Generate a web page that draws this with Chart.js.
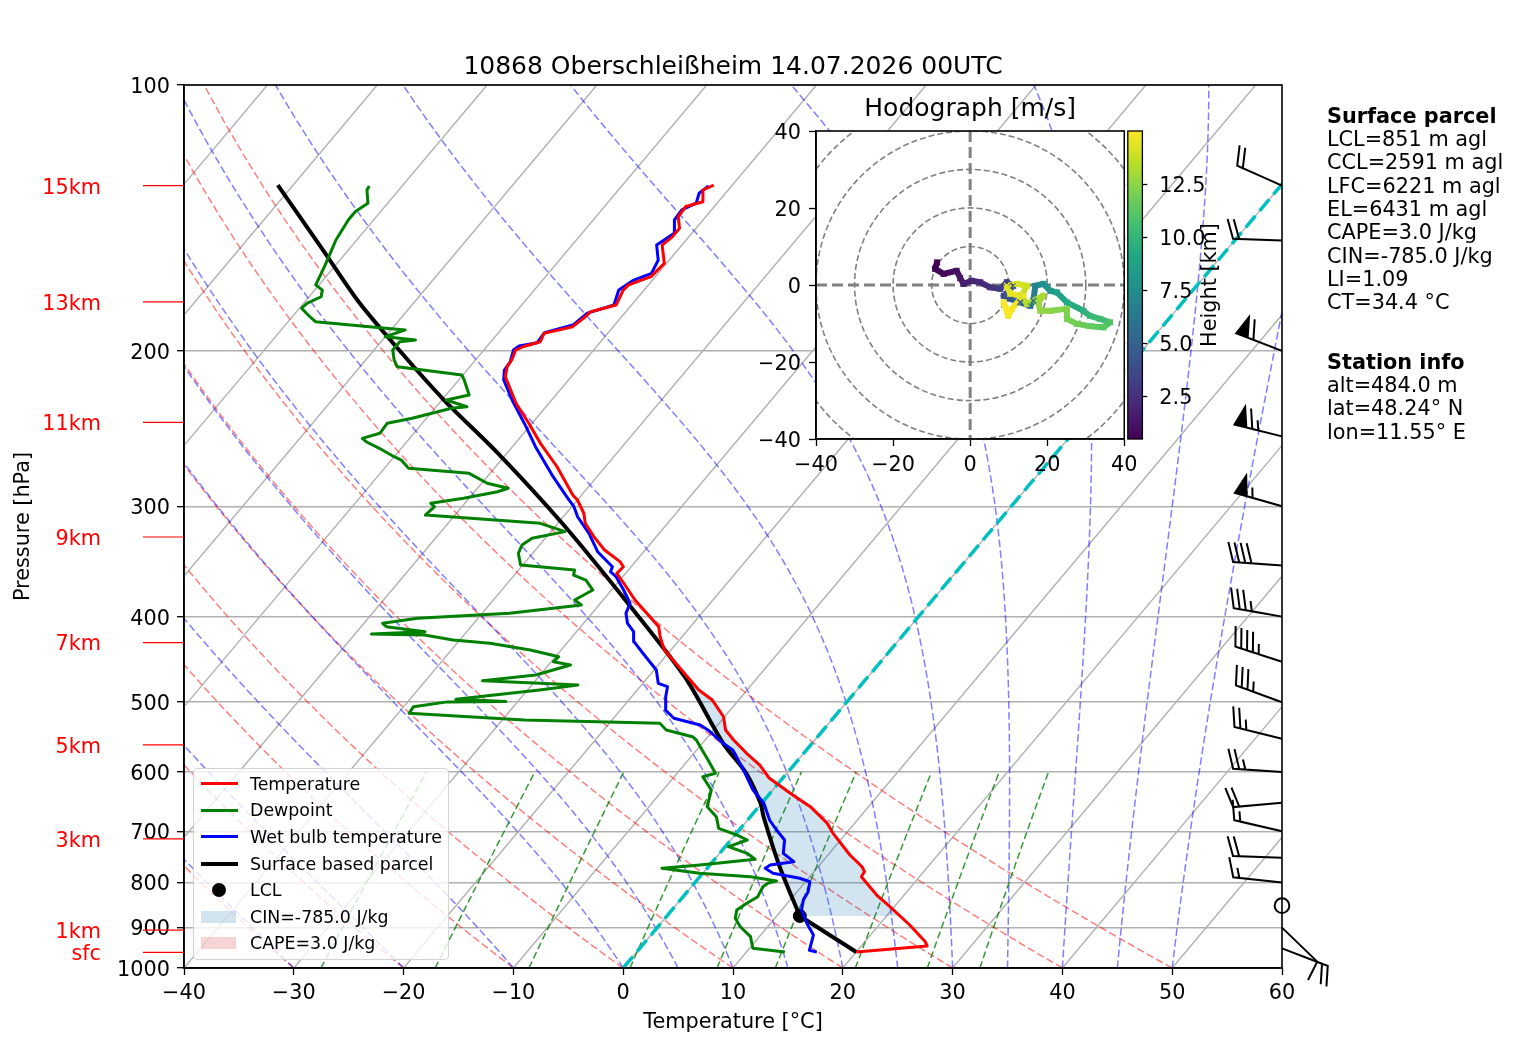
<!DOCTYPE html>
<html>
<head>
<meta charset="utf-8">
<title>10868 Oberschleißheim skew-T</title>
<script src="https://cdn.jsdelivr.net/npm/chart.js@4.4.1/dist/chart.umd.min.js"></script>
<style>
  body { margin: 0; background: #fff; font-family: "DejaVu Sans", sans-serif; color: #000; }
  #wrap { position: relative; width: 1517px; height: 1054px; overflow: hidden; background: #fff; }
  canvas { position: absolute; }
  #legend { position: absolute; left: 193px; top: 768px; width: 256px; height: 192px; box-sizing: border-box;
            background: rgba(255,255,255,0.8); border: 1px solid #d3d3d3; border-radius: 4px; font-size: 17.4px; }
  #legend .row { position: absolute; left: 0; width: 100%; height: 26px; }
  #legend .lab { position: absolute; left: 56px; top: 0; line-height: 26px; white-space: nowrap; }
  #legend .ln { position: absolute; left: 7px; width: 37px; top: 11.5px; height: 3px; }
  #legend .dot { position: absolute; left: 18px; top: 6px; width: 14px; height: 14px; border-radius: 50%; background: #000; }
  #legend .patch { position: absolute; left: 7px; top: 7px; width: 35px; height: 12px; }
  .info { position: absolute; left: 1327px; font-size: 20.8px; line-height: 23.3px; white-space: nowrap; }
</style>
</head>
<body>
<div id="wrap">
  <canvas id="skewt" width="1517" height="1054" style="left:0;top:0"></canvas>
  <canvas id="hodo" width="480" height="390" style="left:760px;top:90px"></canvas>
  <div id="legend">
    <div class="row" style="top:1.7px"><div class="ln" style="background:#ff0000"></div><span class="lab">Temperature</span></div>
    <div class="row" style="top:28.3px"><div class="ln" style="background:#008000"></div><span class="lab">Dewpoint</span></div>
    <div class="row" style="top:54.9px"><div class="ln" style="background:#0000ff"></div><span class="lab">Wet bulb temperature</span></div>
    <div class="row" style="top:81.5px"><div class="ln" style="background:#000;height:4px;top:11px"></div><span class="lab">Surface based parcel</span></div>
    <div class="row" style="top:108.1px"><div class="dot"></div><span class="lab">LCL</span></div>
    <div class="row" style="top:134.7px"><div class="patch" style="background:rgba(31,119,180,0.2)"></div><span class="lab">CIN=-785.0 J/kg</span></div>
    <div class="row" style="top:161.3px"><div class="patch" style="background:rgba(214,39,40,0.2)"></div><span class="lab">CAPE=3.0 J/kg</span></div>
  </div>
  <div class="info" style="top:104.8px">
    <b>Surface parcel</b><br>LCL=851 m agl<br>CCL=2591 m agl<br>LFC=6221 m agl<br>EL=6431 m agl<br>CAPE=3.0 J/kg<br>CIN=-785.0 J/kg<br>LI=1.09<br>CT=34.4 °C
  </div>
  <div class="info" style="top:350.8px">
    <b>Station info</b><br>alt=484.0 m<br>lat=48.24° N<br>lon=11.55° E
  </div>
</div>
<script>
// sounding data (pressure hPa, temperature degC)
const tempP = [959, 944.3, 933.7, 893.9, 852.3, 826.7, 801.8, 788.1, 777.9, 767.9, 744.8, 703.8, 685.7, 656.6, 636.9,
  609.8, 589.0, 571.3, 551.8, 537.6, 519.3, 497.2, 484.3, 459.7, 436.4, 421.5, 410.6, 396.6, 383.0, 366.7, 357.3,
  351.2, 346.6, 336.2, 324.7, 313.6, 305.5, 295.1, 291.3, 282.5, 270.6, 254.6, 241.6, 229.3, 221.5, 214.0, 208.5,
  204.9, 199.6, 197.9, 195.3, 191.1, 187.8, 183.0, 180.6, 177.5, 170.7, 168.4, 164.8, 159.2, 151.8, 148.5, 145.3,
  141.0, 137.3, 135.6, 131.5, 129.8];
const tempT = [20.0, 26.0, 25.5, 22.8, 19.6, 17.5, 15.7, 14.7, 14.6, 14.0, 12.0, 8.8, 7.5, 4.7, 2.2,
  -1.2, -3.1, -5.2, -7.4, -8.9, -10.1, -12.4, -14.4, -17.5, -20.6, -22.0, -22.9, -25.0, -27.1, -29.4, -30.8,
  -30.7, -31.4, -33.7, -35.7, -37.5, -38.4, -40.0, -40.8, -42.3, -44.4, -47.7, -50.3, -53.0, -54.5, -56.0, -56.6,
  -56.7, -57.1, -56.7, -55.5, -55.8, -53.7, -53.3, -53.2, -51.4, -51.9, -51.8, -50.4, -50.2, -51.8, -51.5, -51.5,
  -52.5, -52.6, -51.4, -52.3, -51.7];

const dewP = [959.1, 949.9, 921.6, 897.9, 878.4, 859.6, 844.8, 830.3, 809.0, 801.2, 797.0, 788.1, 781.2, 771.1, 764.5,
  753.2, 741.5, 728.8, 716.2, 707.0, 694.7, 674.0, 656.6, 628.7, 607.2, 601.9, 581.3, 551.8, 547.1, 537.6, 528.3,
  523.8, 514.7, 505.9, 499.6, 499.0, 496.3, 484.3, 478.1, 476.0, 472.8, 465.8, 453.8, 449.9, 444.1, 436.4, 428.8,
  425.2, 419.6, 418.5, 416.0, 410.6, 407.0, 401.7, 396.6, 388.1, 383.0, 373.2, 363.6, 358.9, 354.2, 349.6, 339.1,
  331.9, 326.1, 320.5, 313.6, 306.9, 300.3, 297.7, 293.8, 288.8, 286.2, 282.5, 275.3, 271.7, 265.9, 263.6, 259.0,
  253.5, 251.3, 248.0, 241.6, 238.5, 232.3, 231.4, 227.4, 224.4, 215.8, 213.0, 210.3, 208.5, 204.9, 199.6, 195.3,
  194.4, 192.8, 189.4, 188.6, 185.4, 183.0, 179.0, 176.7, 173.7, 170.7, 168.4, 160.6, 155.1, 149.8, 142.2, 139.1,
  136.1, 131.5, 130.1];
const dewT = [13.5, 10.3, 9.2, 7.5, 6.4, 5.9, 6.3, 6.8, 6.5, 6.7, 7.3, 4.6, -0.3, -4.1, -0.9,
  3.7, 2.5, 0.3, 1.5, 0.2, -2.0, -3.1, -4.7, -5.6, -7.4, -6.5, -8.2, -10.8, -11.4, -14.3, -15.4,
  -28.0, -39.0, -39.1, -36.4, -31.1, -35.8, -28.9, -25.8, -29.4, -34.8, -30.4, -28.0, -29.8, -29.7, -32.8, -37.0,
  -40.6, -43.6, -48.5, -43.8, -47.7, -48.3, -45.5, -37.5, -31.6, -32.6, -31.7, -33.1, -34.6, -34.9, -40.2, -41.3,
  -41.6, -41.2, -38.7, -41.6, -52.7, -52.5, -53.1, -50.5, -47.9, -47.2, -49.5, -51.9, -57.8, -59.1, -60.0, -61.6,
  -63.7, -64.3, -63.1, -63.2, -61.3, -58.5, -57.2, -59.6, -57.9, -59.5, -60.1, -64.0, -66.6, -67.4, -68.3, -68.3,
  -67.0, -70.0, -68.7, -70.6, -77.5, -78.4, -79.8, -79.7, -78.9, -79.3, -80.3, -80.9, -81.4, -81.9, -82.3, -82.3,
  -81.8, -82.9, -83.0];

const wetP = [959, 954.9, 917.6, 890.0, 859.6, 837.5, 819.6, 798.5, 791.4, 781.2, 771.1, 764.5, 757.9, 741.5, 716.2,
  697.8, 679.8, 650.8, 628.7, 596.7, 566.4, 556.6, 537.6, 530.6, 521.4, 510.3, 492.9, 480.2, 476.0, 459.7, 440.1,
  427.0, 416.0, 407.0, 396.6, 386.3, 373.2, 360.5, 355.8, 351.2, 337.7, 321.9, 308.3, 300.3, 293.8, 277.7, 256.8,
  243.7, 227.4, 215.8, 210.3, 205.8, 199.6, 197.5, 195.8, 190.8, 187.0, 181.3, 177.5, 170.7, 166.3, 163.4, 157.9,
  151.8, 147.2, 142.2, 138.5, 136.1, 132.6, 130.1];
const wetT = [16.4, 15.6, 14.8, 13.3, 11.8, 11.2, 11.0, 10.4, 9.2, 6.4, 5.3, 5.5, 7.4, 5.8, 4.9,
  3.4, 2.0, 0.2, -1.8, -4.2, -6.7, -8.1, -10.5, -11.6, -14.5, -15.9, -16.9, -17.5, -18.6, -19.8, -22.3,
  -24.0, -24.8, -26.0, -26.9, -27.3, -28.9, -30.6, -31.5, -31.7, -34.2, -36.4, -38.7, -39.8, -41.0, -44.0, -47.9,
  -50.3, -53.6, -55.9, -56.6, -56.7, -57.3, -57.1, -55.7, -55.8, -53.8, -53.4, -51.6, -52.3, -51.7, -50.6, -51.0,
  -52.3, -51.6, -52.6, -52.7, -51.9, -52.4, -52.1];

// surface based parcel, index 1 is the LCL
const parcelP = [959, 873.2, 767.9, 674.0, 650.8, 601.9, 556.6, 467.9, 386.3, 313.6, 261.3, 227.4, 200, 176.0, 153.8, 129.8];
const parcelT = [20.0, 12.1, 6.5, 1.2, -0.1, -3.7, -8.1, -16.7, -27.5, -39.6, -50.8, -59.8, -67.6, -75.1, -82.3, -91.4];

// wind barbs (knots, direction from)
const windP = [950, 900, 850, 800, 750, 700, 650, 600, 550, 500, 450, 400, 350, 300, 250, 200, 150, 130];
const windSpd = [20, 10, 0, 15, 20, 15, 20, 25, 25, 35, 45, 35, 40, 55, 65, 60, 20, 20];
const windDir = [111, 134, 0, 276, 272, 283, 265, 274, 284, 290, 288, 280, 274, 286, 284, 291, 272, 294];

// hodograph (m/s) and height (km)
const hodoU = [-8.6, -9.1, -6.9, -3.5, -2.6, -1.7, 0.4, 2.6, 5.2, 7.8, 9.5, 11.2, 8.7, 10.4, 13.0, 15.6, 16.4, 16.9, 19.0,
  20.8, 22.5, 25.1, 29.4, 31.1, 33.7, 36.3, 34.6, 31.1, 27.7, 25.1, 25.1, 20.8, 18.2, 17.7, 19.0, 14.7, 13.4, 14.7,
  12.1, 9.5, 10.4, 13.8, 10.8, 9.9, 8.7];
const hodoV = [5.9, 4.2, 2.9, 3.7, 1.8, 0.3, 1.1, 0.7, -0.6, -1.0, 0.7, -0.2, -2.8, -3.6, -4.5, -5.4, -4.1, -0.2, 0.3,
  -1.5, -1.9, -4.5, -6.7, -8.0, -8.8, -9.7, -11.0, -10.7, -10.1, -8.8, -6.2, -6.7, -6.7, -4.5, -2.8, -4.9, -2.8, -0.2,
  0.3, -0.2, -2.3, -2.8, -6.2, -8.0, -4.5];
const hodoH = [0.5, 0.6, 0.8, 1.1, 1.3, 1.7, 1.9, 2.1, 2.5, 2.9, 3.3, 3.6, 4.0, 4.4, 5.0, 5.6, 6.1, 7.0, 7.6,
  8.1, 8.6, 9.1, 9.6, 10.0, 10.4, 10.9, 11.2, 11.5, 11.8, 12.0, 12.2, 12.4, 12.6, 12.8, 13.0, 13.3, 13.6, 13.9,
  14.1, 14.3, 14.5, 14.6, 14.8, 14.9, 15.0];

// axis ticks / labels
const tempTicks = [-40, -30, -20, -10, 0, 10, 20, 30, 40, 50, 60];
const presTicks = [100, 200, 300, 400, 500, 600, 700, 800, 900, 1000];
const heightLabels = ['sfc', '1km', '3km', '5km', '7km', '9km', '11km', '13km', '15km'];
const heightP = [960, 906, 714, 559, 428, 325, 241, 176, 130];
const hodoRings = [10, 20, 30, 40, 50, 60];
const cbarTicks = [2.5, 5.0, 7.5, 10.0, 12.5];
const cbarMin = 0.484, cbarMax = 15.0;
const dryStart = [-40, -30, -20, -10, 0, 10, 20, 30, 40, 50];
const moistStart = [-40, -30, -20, -10, 0, 5, 10, 15, 20, 25, 30, 35, 40, 45, 50];
const mixRatios = [0.0004, 0.001, 0.002, 0.004, 0.007, 0.01, 0.016, 0.024, 0.032];

const SKEW = 67.6; // degC shift per decade of pressure
const FONT = 'DejaVu Sans';
const minus = v => (v < 0 ? '\u2212' + Math.abs(v) : String(v));
const skewX = (t, p) => t + SKEW * Math.log10(1000 / p);
const profile = (ps, ts) => ps.map((p, i) => ({ x: skewX(ts[i], p), y: p }));

Chart.defaults.font.family = FONT;
Chart.defaults.color = '#000';

function guideLine(data, color, width, dash) {
	return { data: data, showLine: true, borderColor: color, borderWidth: width, borderDash: dash,
		pointRadius: 0, pointHoverRadius: 0, fill: false, tension: 0 };
}

// background lines
const guides = [];
mixRatios.forEach(w => {
	const d = [];
	for (let p = 1000; p >= 600; p -= 25) {
		const e = w * p / (0.622 + w), l = Math.log(e / 6.112);
		d.push({ x: skewX(243.5 * l / (17.67 - l), p), y: p });
	}
	guides.push(guideLine(d, 'rgba(0,128,0,0.8)', 1.5, [7, 3.5]));
});
function moistLine(t0) {
	const Rd = 287.04, Cp = 1005.7, Lv = 2.501e6, eps = 0.622;
	const f = (p, T) => {
		const es = 6.112 * Math.exp(17.67 * (T - 273.15) / (T - 29.65));
		const rs = eps * es / (p - es);
		return (Rd * T + Lv * rs) / (Cp + Lv * Lv * rs * eps / (Rd * T * T)) / p;
	};
	let T = t0 + 273.15, p = 1000;
	const h = -5, d = [{ x: skewX(t0, 1000), y: 1000 }];
	while (p > 100.01) {
		const k1 = f(p, T), k2 = f(p + h / 2, T + h / 2 * k1), k3 = f(p + h / 2, T + h / 2 * k2), k4 = f(p + h, T + h * k3);
		T += h / 6 * (k1 + 2 * k2 + 2 * k3 + k4);
		p += h;
		d.push({ x: skewX(T - 273.15, p), y: p });
	}
	return d;
}
moistStart.forEach(t0 => guides.push(guideLine(moistLine(t0), 'rgba(0,0,255,0.5)', 1.5, [7.5, 3.3])));
dryStart.forEach(t0 => {
	const d = [];
	for (let p = 1000; p >= 100; p -= 10) d.push({ x: skewX((t0 + 273.15) * Math.pow(p / 1000, 0.2857) - 273.15, p), y: p });
	guides.push(guideLine(d, 'rgba(255,0,0,0.5)', 1.5, [7.5, 3.3]));
});
for (let t = -100; t <= 60; t += 10) {
	guides.push(guideLine([{ x: skewX(t, 1000), y: 1000 }, { x: skewX(t, 100), y: 100 }], '#b0b0b0', 1.4, []));
}

// CIN area between parcel and environment
function interpT(ps, ts, p) {
	for (let i = 0; i < ps.length - 1; i++) {
		if (ps[i] >= p && ps[i + 1] <= p) {
			const f = Math.log(ps[i] / p) / Math.log(ps[i] / ps[i + 1]);
			return ts[i] + f * (ts[i + 1] - ts[i]);
		}
	}
	return ts[0];
}
const lclP = parcelP[1];
const cinPoly = [{ x: skewX(interpT(tempP, tempT, lclP), lclP), y: lclP }];
tempP.forEach((p, i) => { if (p < lclP && p >= 480) cinPoly.push({ x: skewX(tempT[i], p), y: p }); });
for (let i = parcelP.length - 1; i >= 1; i--) {
	if (parcelP[i] >= 460 && parcelP[i] <= lclP) cinPoly.push({ x: skewX(parcelT[i], parcelP[i]), y: parcelP[i] });
}

const datasets = [
	{ data: profile(tempP, tempT), showLine: true, borderColor: '#ff0000', borderWidth: 3, pointRadius: 0, borderJoinStyle: 'round' },
	{ data: profile(wetP, wetT), showLine: true, borderColor: '#0000ff', borderWidth: 3, pointRadius: 0, borderJoinStyle: 'round' },
	{ data: profile(dewP, dewT), showLine: true, borderColor: '#008000', borderWidth: 3, pointRadius: 0, borderJoinStyle: 'round' },
	{ data: profile(parcelP.slice(1), parcelT.slice(1)), showLine: true, borderColor: '#000', borderWidth: 4, pointRadius: 0, tension: 0.3 },
	{ data: profile(parcelP.slice(0, 2), parcelT.slice(0, 2)), showLine: true, borderColor: '#000', borderWidth: 4, pointRadius: 0 },
	{ data: [{ x: skewX(parcelT[1], lclP), y: lclP }], showLine: false, pointRadius: 6.5, pointBackgroundColor: '#000', pointBorderColor: '#000' },
	guideLine([{ x: 0, y: 1000 }, { x: skewX(0, 100), y: 100 }], '#00bfbf', 3.5, [15, 6.5]),
	{ data: cinPoly, showLine: true, borderWidth: 0, borderColor: 'rgba(0,0,0,0)', backgroundColor: 'rgba(31,119,180,0.2)', fill: 'shape', pointRadius: 0 }
].concat(guides);

function drawBarb(ctx, x0, y0, spd, dir, L) {
	const half = 5, full = 10, flag = 50;
	let mag = half * Math.floor(spd / half + 0.5);
	const nFlags = Math.floor(mag / flag); mag -= nFlags * flag;
	const nBarbs = Math.floor(mag / full); mag -= nBarbs * full;
	const halfBarb = mag >= half;
	if (!nFlags && !nBarbs && !halfBarb) {
		ctx.beginPath(); ctx.arc(x0, y0, 0.15 * L, 0, 2 * Math.PI); ctx.stroke();
		return;
	}
	const fh = 0.4 * L, fw = 0.25 * L, sp = 0.125 * L;
	const verts = [[0, 0]];
	let off = L;
	for (let i = 0; i < nFlags; i++) {
		if (off !== L) off += sp / 2;
		verts.push([0, off], [fh, off - fw / 2], [0, off - fw]);
		off -= fw + sp;
	}
	for (let i = 0; i < nBarbs; i++) {
		verts.push([0, off], [fh, off + fw / 2], [0, off]);
		off -= sp;
	}
	if (halfBarb) {
		if (off === L) { verts.push([0, off]); off -= 1.5 * sp; }
		verts.push([0, off], [fh / 2, off + fw / 4], [0, off]);
	}
	const r = dir * Math.PI / 180;
	const rot = Math.atan2(-Math.cos(r), -Math.sin(r)) + Math.PI / 2;
	const c = Math.cos(rot), s = Math.sin(rot);
	ctx.beginPath();
	verts.forEach((v, i) => {
		const px = x0 + v[0] * c - v[1] * s, py = y0 - (v[0] * s + v[1] * c);
		if (i) ctx.lineTo(px, py); else ctx.moveTo(px, py);
	});
	ctx.closePath(); ctx.fill(); ctx.stroke();
}

const skewPlugin = {
	id: 'skewExtras',
	afterDraw(chart) {
		const { ctx, chartArea: a, scales: { y } } = chart;
		ctx.save();
		// frame
		ctx.strokeStyle = '#000'; ctx.lineWidth = 1.6; ctx.setLineDash([]);
		ctx.strokeRect(a.left, a.top, a.right - a.left, a.bottom - a.top);
		// height labels
		ctx.fillStyle = '#ff0000'; ctx.strokeStyle = '#ff0000'; ctx.lineWidth = 1.2;
		ctx.font = '20.8px "' + FONT + '"'; ctx.textAlign = 'right'; ctx.textBaseline = 'middle';
		heightP.forEach((p, i) => {
			const py = y.getPixelForValue(p);
			ctx.beginPath(); ctx.moveTo(143, py); ctx.lineTo(a.left, py); ctx.stroke();
			ctx.fillText(heightLabels[i], 101, py + 2.5);
		});
		// wind barbs
		ctx.strokeStyle = '#000'; ctx.fillStyle = '#000'; ctx.lineWidth = 2; ctx.lineJoin = 'miter';
		windP.forEach((p, i) => drawBarb(ctx, a.right, y.getPixelForValue(p), windSpd[i], windDir[i], 49));
		ctx.restore();
	}
};

new Chart(document.getElementById('skewt'), {
	type: 'scatter',
	data: { datasets: datasets },
	options: {
		responsive: false, animation: false, devicePixelRatio: 1,
		layout: { padding: { left: 0, right: 235, top: 0, bottom: 0 } },
		plugins: {
			legend: { display: false }, tooltip: { enabled: false },
			title: { display: true, fullSize: false, text: '10868 Oberschleißheim 14.07.2026 00UTC',
				font: { size: 25, weight: 'normal' }, color: '#000', padding: { top: 52.5, bottom: 2.5 } }
		},
		scales: {
			x: {
				type: 'linear', min: -40, max: 60,
				afterFit: s => { s.height = 86; },
				afterBuildTicks: s => { s.ticks = tempTicks.map(v => ({ value: v })); },
				ticks: { callback: minus, font: { size: 20.8 }, padding: 6, autoSkip: false, maxRotation: 0 },
				grid: { drawOnChartArea: false, tickLength: 7, tickColor: '#000', tickWidth: 1.3 },
				border: { color: '#000', width: 1.6 },
				title: { display: true, text: 'Temperature [°C]', font: { size: 20.8 }, padding: { top: 0, bottom: 19 } }
			},
			y: {
				type: 'logarithmic', min: 100, max: 1000, reverse: true,
				afterFit: s => { s.width = 184; },
				afterBuildTicks: s => { s.ticks = presTicks.map(v => ({ value: v })); },
				ticks: { callback: v => String(v), font: { size: 20.8 }, padding: 7, autoSkip: false, labelOffset: 2.5 },
				grid: { color: '#b0b0b0', lineWidth: 1.4, tickLength: 7, tickColor: '#000', tickWidth: 1.3 },
				border: { color: '#000', width: 1.6 },
				title: { display: true, text: 'Pressure [hPa]', font: { size: 20.8 }, padding: { top: 11, bottom: 0 } }
			}
		}
	},
	plugins: [skewPlugin]
});

// hodograph
const viridisStops = ['#440154', '#482475', '#414487', '#355f8d', '#2a788e', '#21918c', '#22a884', '#44bf70', '#7ad151', '#bddf26', '#fde725'];
function viridis(h) {
	let t = Math.min(1, Math.max(0, (h - cbarMin) / (cbarMax - cbarMin))) * 10;
	const i = Math.min(9, Math.floor(t)), f = t - i;
	const a = viridisStops[i], b = viridisStops[i + 1];
	const ch = (c, k) => parseInt(c.substr(1 + 2 * k, 2), 16);
	const mix = k => Math.round(ch(a, k) + f * (ch(b, k) - ch(a, k)));
	return 'rgb(' + mix(0) + ',' + mix(1) + ',' + mix(2) + ')';
}

const hodoPlugin = {
	id: 'hodoExtras',
	beforeDraw(chart) {
		const { ctx, chartArea: a } = chart;
		ctx.save(); ctx.fillStyle = '#fff'; ctx.fillRect(a.left, a.top, a.right - a.left, a.bottom - a.top); ctx.restore();
	},
	beforeDatasetsDraw(chart) {
		const { ctx, chartArea: a, scales: { x, y } } = chart;
		ctx.save();
		ctx.beginPath(); ctx.rect(a.left, a.top, a.right - a.left, a.bottom - a.top); ctx.clip();
		const cx = x.getPixelForValue(0), cy = y.getPixelForValue(0);
		ctx.strokeStyle = '#808080'; ctx.lineWidth = 1.6; ctx.setLineDash([6, 3]);
		hodoRings.forEach(r => {
			ctx.beginPath(); ctx.arc(cx, cy, x.getPixelForValue(r) - cx, 0, 2 * Math.PI); ctx.stroke();
		});
		ctx.lineWidth = 3; ctx.setLineDash([11, 5]);
		ctx.beginPath(); ctx.moveTo(a.left, cy); ctx.lineTo(a.right, cy); ctx.moveTo(cx, a.top); ctx.lineTo(cx, a.bottom); ctx.stroke();
		ctx.restore();
	},
	afterDraw(chart) {
		const { ctx, chartArea: a, scales: { y2 } } = chart;
		ctx.save();
		ctx.strokeStyle = '#000'; ctx.lineWidth = 1.6;
		ctx.strokeRect(a.left, a.top, a.right - a.left, a.bottom - a.top);
		// colorbar
		const yTop = y2.getPixelForValue(cbarMax), yBot = y2.getPixelForValue(cbarMin);
		ctx.fillStyle = '#fff'; ctx.fillRect(a.right + 0.9, yTop - 1, 2.6, yBot - yTop + 2);
		const g = ctx.createLinearGradient(0, yBot, 0, yTop);
		viridisStops.forEach((c, i) => g.addColorStop(i / 10, c));
		const x0 = a.right + 3.5, w = 14.6;
		ctx.fillStyle = g; ctx.fillRect(x0, yTop, w, yBot - yTop);
		ctx.lineWidth = 1.3; ctx.strokeRect(x0, yTop, w, yBot - yTop);
		ctx.fillStyle = '#000'; ctx.font = '20.8px "' + FONT + '"'; ctx.textAlign = 'center'; ctx.textBaseline = 'middle';
		ctx.translate(451, (yTop + yBot) / 2); ctx.rotate(-Math.PI / 2); ctx.fillText('Height [km]', 0, 0);
		ctx.restore();
	}
};

new Chart(document.getElementById('hodo'), {
	type: 'scatter',
	data: {
		datasets: [{
			data: hodoU.map((u, i) => ({ x: u, y: hodoV[i] })),
			showLine: true, borderWidth: 6, borderColor: '#440154', borderCapStyle: 'round', borderJoinStyle: 'round',
			segment: { borderColor: c => viridis((hodoH[c.p0DataIndex] + hodoH[c.p1DataIndex]) / 2) },
			pointStyle: 'crossRot', pointRadius: 4, pointBorderWidth: 1.5,
			pointBorderColor: c => viridis(hodoH[c.dataIndex]), pointBackgroundColor: c => viridis(hodoH[c.dataIndex])
		}]
	},
	options: {
		responsive: false, animation: false, devicePixelRatio: 1,
		layout: { padding: 0 },
		plugins: {
			legend: { display: false }, tooltip: { enabled: false },
			title: { display: true, fullSize: false, text: 'Hodograph [m/s]', font: { size: 25, weight: 'normal' }, color: '#000',
				padding: { top: 4, bottom: 7 } }
		},
		scales: {
			x: {
				type: 'linear', min: -40, max: 40,
				afterFit: s => { s.height = 41; },
				ticks: { stepSize: 20, callback: minus, font: { size: 20.8 }, padding: 7, maxRotation: 0 },
				grid: { drawOnChartArea: false, tickLength: 7, tickColor: '#000', tickWidth: 1.3 },
				border: { color: '#000', width: 1.6 }
			},
			y: {
				type: 'linear', min: -40, max: 40,
				afterFit: s => { s.width = 56; },
				ticks: { stepSize: 20, callback: minus, font: { size: 20.8 }, padding: 8, labelOffset: 2.5 },
				grid: { drawOnChartArea: false, tickLength: 7, tickColor: '#000', tickWidth: 1.3 },
				border: { color: '#000', width: 1.6 }
			},
			y2: {
				type: 'linear', position: 'right', min: cbarMin, max: cbarMax,
				afterFit: s => { s.width = 115.7; },
				afterBuildTicks: s => { s.ticks = cbarTicks.map(v => ({ value: v })); },
				ticks: { callback: v => v.toFixed(1), font: { size: 20.8 }, padding: 12, labelOffset: 2.5 },
				grid: { drawOnChartArea: false, tickLength: 23, tickColor: '#000', tickWidth: 1.3 },
				border: { display: false }
			}
		}
	},
	plugins: [hodoPlugin]
});
</script>
</body>
</html>
